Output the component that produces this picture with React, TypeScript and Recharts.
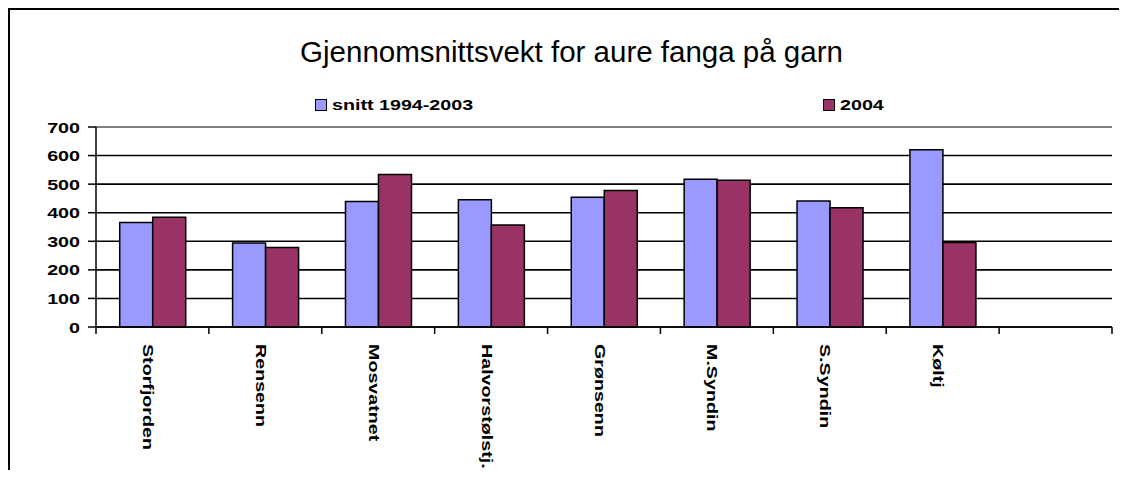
import { BarChart, Bar, XAxis, YAxis, CartesianGrid, Legend, ReferenceLine } from "recharts";

// average weight (g) of trout caught in gill nets
const lakes = ["Storfjorden", "Rensenn", "Mosvatnet", "Halvorstølstj.", "Grønsenn", "M.Syndin", "S.Syndin", "Køltj", ""];
const snitt = [366, 294, 439, 445, 454, 517, 441, 620, null];
const year2004 = [384, 278, 534, 357, 478, 514, 417, 296, null];
const yTicks = [0, 100, 200, 300, 400, 500, 600, 700];
const seriesOrder = ["snitt", "y2004"];

const data = lakes.map((name, i) => ({ name, snitt: snitt[i], y2004: year2004[i] }));

const W = 1117;
const H = 468;
const MARGIN = { top: 117, right: 15, bottom: 10, left: 0 };
const Y_AXIS_W = 86;
const X_AXIS_H = 141;
const X_TICK_SIZE = 7;
const X_TICK_MARGIN = 10;
const BAND = (W - MARGIN.left - MARGIN.right - Y_AXIS_W) / lakes.length;

const FONT = '"Liberation Sans", Arial, sans-serif';
const LABEL_SIZE = 15.5;
const STRETCH = 1.27; // the old chart's bold labels are drawn wide
const BLUE = "#9999ff";
const PLUM = "#993366";

function LakeTick(props: any) {
  const { x, y, payload, index } = props;
  const half = BAND / 2;
  const axisY = y - X_TICK_SIZE - X_TICK_MARGIN;
  return (
    <g>
      <line x1={x - half} x2={x - half} y1={axisY} y2={axisY + X_TICK_SIZE} stroke="#000" strokeWidth={1.5} />
      {index === lakes.length - 1 && (
        <line x1={x + half} x2={x + half} y1={axisY} y2={axisY + X_TICK_SIZE} stroke="#000" strokeWidth={1.5} />
      )}
      <text
        transform={`translate(${x - 9.5},${y}) rotate(90) scale(${STRETCH},1)`}
        fontFamily={FONT}
        fontSize={LABEL_SIZE}
        fontWeight="bold"
        fill="#000"
      >
        {payload.value}
      </text>
    </g>
  );
}

function ValueTick(props: any) {
  const { x, y, payload } = props;
  return (
    <text
      transform={`translate(${x},${y}) scale(${STRETCH},1)`}
      textAnchor="end"
      dy="0.355em"
      fontFamily={FONT}
      fontSize={LABEL_SIZE}
      fontWeight="bold"
      fill="#000"
    >
      {payload.value}
    </text>
  );
}

const legendX = [305, 813];

function LegendBox(props: any) {
  const items = [...(props.payload || [])].sort(
    (a: any, b: any) => seriesOrder.indexOf(a.dataKey) - seriesOrder.indexOf(b.dataKey)
  );
  return (
    <div style={{ position: "relative", height: 16 }}>
      {items.map((it: any, i: number) => (
        <div
          key={it.value}
          style={{ position: "absolute", left: legendX[i], top: 0, display: "flex", alignItems: "center" }}
        >
          <span
            style={{
              display: "inline-block",
              width: 10,
              height: 10,
              background: it.color,
              border: "1.5px solid #000",
              marginRight: 5,
            }}
          />
          <span
            style={{
              display: "inline-block",
              fontFamily: FONT,
              fontSize: LABEL_SIZE,
              fontWeight: "bold",
              lineHeight: "15px",
              whiteSpace: "nowrap",
              transform: `scaleX(${STRETCH})`,
              transformOrigin: "left center",
            }}
          >
            {it.value}
          </span>
        </div>
      ))}
    </div>
  );
}

export default function App() {
  return (
    <div
      style={{
        position: "relative",
        width: 1119,
        height: 470,
        marginBottom: -8,
        borderTop: "2px solid #000",
        borderLeft: "2px solid #000",
        boxSizing: "border-box",
        overflow: "hidden",
        background: "#fff",
      }}
    >
      <div
        style={{
          position: "absolute",
          left: 561.5,
          top: 27,
          transform: "translateX(-50%)",
          whiteSpace: "nowrap",
          fontFamily: FONT,
          fontSize: 29.5,
          lineHeight: "29.5px",
          color: "#000",
        }}
      >
        Gjennomsnittsvekt for aure fanga på garn
      </div>
      <BarChart
        width={W}
        height={H}
        data={data}
        margin={MARGIN}
        barCategoryGap="21%"
        barGap={0}
      >
        <CartesianGrid vertical={false} stroke="#000" strokeWidth={1.6} />
        <ReferenceLine y={700} stroke="#808080" strokeWidth={2} />
        <XAxis
          dataKey="name"
          interval={0}
          height={X_AXIS_H}
          tickLine={false}
          tickSize={X_TICK_SIZE}
          tickMargin={X_TICK_MARGIN}
          axisLine={{ stroke: "#000", strokeWidth: 1.5 }}
          tick={<LakeTick />}
        />
        <YAxis
          width={Y_AXIS_W}
          domain={[0, 700]}
          ticks={yTicks}
          interval={0}
          tickSize={8}
          tickMargin={8}
          axisLine={{ stroke: "#000", strokeWidth: 1.5 }}
          tickLine={{ stroke: "#000", strokeWidth: 1.5 }}
          tick={<ValueTick />}
        />
        <YAxis
          yAxisId="right"
          orientation="right"
          width={0}
          domain={[0, 700]}
          tick={false}
          tickLine={false}
          axisLine={{ stroke: "#808080", strokeWidth: 2 }}
        />
        <Legend
          layout="horizontal"
          verticalAlign="middle"
          align="center"
          wrapperStyle={{ top: 87, left: 0, width: W, height: 16 }}
          content={<LegendBox />}
        />
        <Bar dataKey="snitt" name="snitt 1994-2003" fill={BLUE} stroke="#000" strokeWidth={1.5} isAnimationActive={false} />
        <Bar dataKey="y2004" name="2004" fill={PLUM} stroke="#000" strokeWidth={1.5} isAnimationActive={false} />
      </BarChart>
    </div>
  );
}
